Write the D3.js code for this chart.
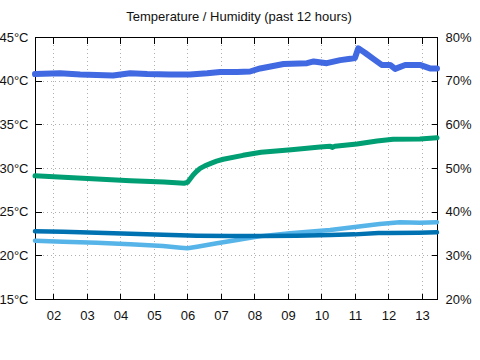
<!DOCTYPE html>
<html>
<head>
<meta charset="utf-8">
<script src="https://cdn.jsdelivr.net/npm/d3@7"></script>
<style>
  html, body { margin: 0; padding: 0; background: #fff; }
  svg { display: block; font-family: "Liberation Sans", Arial, sans-serif; }
</style>
</head>
<body>
<svg id="chart" width="480" height="360"></svg>
<script>
// ---- data (hours of day, values) ----
const title = "Temperature / Humidity (past 12 hours)";
const xTicks = [2, 3, 4, 5, 6, 7, 8, 9, 10, 11, 12, 13];
const tempTicks = [15, 20, 25, 30, 35, 40, 45];
const humTicks = [20, 30, 40, 50, 60, 70, 80];

// humidity (%), right axis
const humHours = [1.45, 2.2, 2.8, 3.78, 4.29, 4.8, 5.48, 6.08, 6.59, 6.98, 7.48, 7.87, 8.17, 8.87, 9.57, 9.77, 10.16, 10.56, 10.86, 11.0, 11.1, 11.3, 11.55, 11.8, 12.05, 12.2, 12.5, 12.94, 13.24, 13.45];
const humidity = [71.5, 71.7, 71.4, 71.2, 71.7, 71.5, 71.4, 71.4, 71.7, 72.0, 72.0, 72.1, 72.8, 73.8, 74.0, 74.4, 74.0, 74.7, 75.0, 75.2, 77.4, 76.4, 75.0, 73.6, 73.6, 72.7, 73.6, 73.6, 72.8, 72.8];

// temperature sensor A (°C), green
const tempAHours = [1.45, 2.3, 3.3, 4.3, 5.3, 5.9, 6.0, 6.08, 6.17, 6.27, 6.38, 6.52, 6.68, 6.87, 7.07, 7.66, 8.2, 9.1, 9.96, 10.26, 10.32, 10.4, 11.06, 11.66, 12.14, 12.94, 13.45];
const tempA = [29.1, 28.95, 28.75, 28.55, 28.4, 28.25, 28.35, 28.75, 29.2, 29.6, 29.95, 30.25, 30.5, 30.78, 31.0, 31.45, 31.8, 32.1, 32.4, 32.5, 32.35, 32.5, 32.75, 33.1, 33.3, 33.32, 33.47];

// temperature sensor B (°C), dark blue
const tempBHours = [1.45, 2.29, 3.3, 4.29, 5.27, 6.29, 7.27, 8.26, 9.26, 10.26, 11.0, 11.7, 12.0, 12.9, 13.45];
const tempB = [22.75, 22.71, 22.59, 22.48, 22.36, 22.25, 22.21, 22.21, 22.25, 22.33, 22.4, 22.56, 22.56, 22.6, 22.64];

// temperature sensor C (°C), light blue
const tempCHours = [1.45, 2.29, 3.3, 4.29, 5.27, 5.8, 6.0, 6.29, 6.88, 7.48, 7.7, 8.2, 9.06, 10.26, 11.06, 11.74, 12.34, 12.94, 13.45];
const tempC = [21.68, 21.56, 21.45, 21.26, 21.07, 20.87, 20.81, 20.99, 21.38, 21.76, 21.9, 22.2, 22.52, 22.9, 23.28, 23.59, 23.78, 23.74, 23.8];

// ---- layout ----
const svg = d3.select("#chart");
const L = 35, R = 437, T = 37, B = 299;

const x = d3.scaleLinear().domain([1.45, 13.45]).range([L, R]);
const yT = d3.scaleLinear().domain([15, 45]).range([B, T]);
const yH = d3.scaleLinear().domain([20, 80]).range([B, T]);

// title
svg.append("text")
  .attr("x", 239).attr("y", 21)
  .attr("text-anchor", "middle")
  .attr("font-size", 13)
  .attr("fill", "#111")
  .text(title);

// grid
const grid = svg.append("g").attr("stroke", "#b0b0b0").attr("stroke-width", 1)
  .attr("stroke-dasharray", "1,3").attr("shape-rendering", "crispEdges");
grid.selectAll("line.h").data(tempTicks.filter(d => d > 15 && d < 45)).join("line")
  .attr("x1", L).attr("x2", R)
  .attr("y1", d => Math.round(yT(d)) + 0.5).attr("y2", d => Math.round(yT(d)) + 0.5);
grid.selectAll("line.v").data(xTicks).join("line")
  .attr("y1", T).attr("y2", B)
  .attr("x1", d => Math.round(x(d)) + 0.5).attr("x2", d => Math.round(x(d)) + 0.5);

// axes
function styleAxis(g) {
  g.select(".domain").remove();
  g.selectAll(".tick line").attr("stroke", "#000").attr("shape-rendering", "crispEdges");
  g.selectAll(".tick text").attr("font-size", 13).attr("fill", "#111")
    .attr("font-family", "\"Liberation Sans\", Arial, sans-serif");
}
svg.append("g").attr("transform", `translate(${L + 0.5},0)`)
  .call(d3.axisLeft(yT).tickValues(tempTicks).tickSize(-6).tickPadding(7).tickFormat(d => d + "°C"))
  .call(styleAxis);
svg.append("g").attr("transform", `translate(${R + 0.5},0)`)
  .call(d3.axisRight(yH).tickValues(humTicks).tickSize(-6).tickPadding(8).tickFormat(d => d + "%"))
  .call(styleAxis);
svg.append("g").attr("transform", `translate(0,${B + 0.5})`)
  .call(d3.axisBottom(x).tickValues(xTicks).tickSize(-6).tickPadding(11).tickFormat(d3.format("02d")))
  .call(styleAxis);
svg.append("g").attr("transform", `translate(0,${T + 0.5})`)
  .call(d3.axisTop(x).tickValues(xTicks).tickSize(-6).tickFormat(""))
  .call(styleAxis);

// border
svg.append("rect")
  .attr("x", L + 0.5).attr("y", T + 0.5)
  .attr("width", R - L).attr("height", B - T)
  .attr("fill", "none").attr("stroke", "#000").attr("stroke-width", 1)
  .attr("shape-rendering", "crispEdges");

// lines
function drawLine(hours, vals, yScale, color, width) {
  const pts = hours.map((h, i) => [h, vals[i]]);
  svg.append("path")
    .datum(pts)
    .attr("fill", "none")
    .attr("stroke", color)
    .attr("stroke-width", width)
    .attr("stroke-linejoin", "round")
    .attr("stroke-linecap", "round")
    .attr("d", d3.line().x(d => x(d[0])).y(d => yScale(d[1])));
}
drawLine(humHours, humidity, yH, "#4169E1", 6);
drawLine(tempAHours, tempA, yT, "#009E73", 5);
drawLine(tempCHours, tempC, yT, "#56B4E9", 4.5);
drawLine(tempBHours, tempB, yT, "#0072B2", 4.5);
</script>
</body>
</html>
